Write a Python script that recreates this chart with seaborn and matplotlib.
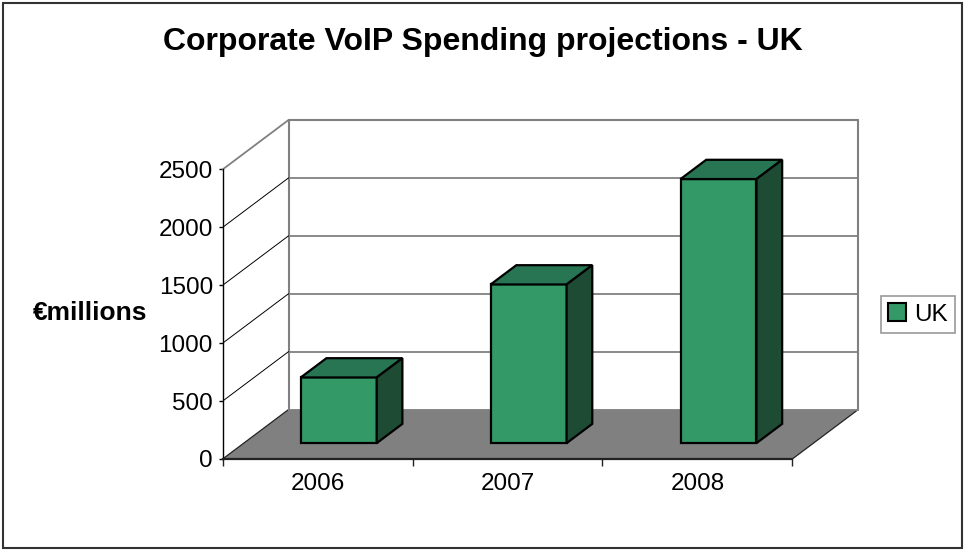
import matplotlib
matplotlib.use("Agg")
import matplotlib.pyplot as plt
import pandas as pd
import seaborn as sns
from matplotlib.patches import Polygon, Rectangle, Patch

# ---- data ----
years = ["2006", "2007", "2008"]
spending = [567, 1370, 2280]
y_ticks = [0, 500, 1000, 1500, 2000, 2500]
title = "Corporate VoIP Spending projections - UK"
y_label = "€millions"
series_name = "UK"

sns.set_style("white")
plt.rcParams['font.family'] = ['Liberation Sans', 'DejaVu Sans']
plt.rcParams['text.color'] = 'black'
plt.rcParams['axes.labelcolor'] = 'black'
plt.rcParams['xtick.color'] = 'black'
plt.rcParams['ytick.color'] = 'black'

FRONT = "#339966"
TOP = "#277552"
SIDE = "#1d4b33"
FLOOR = "#808080"
WALL = "#808080"

fig = plt.figure(figsize=(9.64, 5.5), dpi=100)
ax = fig.add_axes([0.231, 0.1655, 0.6593, 0.6164])

# oblique 3D offsets (in data units)
DX = 0.347
DY = 427.0
d1, d2 = 0.32, 0.71
ymax = y_ticks[-1]
n = len(years)

df = pd.DataFrame({"year": years, "spending": spending})
sns.barplot(data=df, x="year", y="spending", ax=ax, color=FRONT, saturation=1,
            width=0.4, edgecolor="black", linewidth=1.6, zorder=5)

# floor
ax.add_patch(Polygon([(-0.5, 0), (n - 0.5, 0), (n - 0.5 + DX, DY), (-0.5 + DX, DY)],
                     closed=True, facecolor=FLOOR, edgecolor="none", zorder=1))
ax.plot([-0.5, -0.5 + DX], [0, DY], color="#222222", lw=0.9, zorder=2)
ax.plot([n - 0.5, n - 0.5 + DX], [0, DY], color="#222222", lw=0.9, zorder=2, clip_on=False)
ax.plot([-0.5 + DX, n - 0.5 + DX], [DY, DY], color=WALL, lw=1.2, zorder=2, clip_on=False)

# back wall
bx0, bx1 = -0.5 + DX, n - 0.5 + DX
ax.plot([bx0, bx0], [DY, ymax + DY], color=WALL, lw=1.5, zorder=2, clip_on=False)
ax.plot([bx1, bx1], [DY, ymax + DY], color=WALL, lw=1.5, zorder=2, clip_on=False)
ax.plot([bx0, bx1], [ymax + DY, ymax + DY], color=WALL, lw=1.5, zorder=2, clip_on=False)
for v in y_ticks[1:-1]:
    ax.plot([bx0, bx1], [v + DY, v + DY], color=WALL, lw=1.3, zorder=2)
# left wall
for v in y_ticks[1:]:
    if v == ymax:
        ax.plot([-0.5, bx0], [v, v + DY], color=WALL, lw=1.3, zorder=2, clip_on=False)
    else:
        ax.plot([-0.5, bx0], [v, v + DY], color="black", lw=0.7, zorder=2)

# 3D bars
for p in ax.containers[0]:
    x0 = p.get_x() + d1 * DX
    w = p.get_width()
    h = p.get_height()
    b1 = d1 * DY
    b2 = d2 * DY
    ox = (d2 - d1) * DX
    p.set_x(x0)
    p.set_y(b1)
    p.set_joinstyle("miter")
    x1 = x0 + w
    ax.add_patch(Polygon([(x0, h + b1), (x1, h + b1), (x1 + ox, h + b2), (x0 + ox, h + b2)],
                         closed=True, facecolor=TOP, edgecolor="black", lw=1.6,
                         joinstyle="miter", zorder=5))
    ax.add_patch(Polygon([(x1, b1), (x1 + ox, b2), (x1 + ox, h + b2), (x1, h + b1)],
                         closed=True, facecolor=SIDE, edgecolor="black", lw=1.6,
                         joinstyle="miter", zorder=5))

ax.set_xlim(-0.5, n - 0.5 + DX)
ax.set_ylim(0, ymax + DY)
ax.set_xlabel("")
ax.set_ylabel("")
ax.set_facecolor("none")

for s in ["top", "right"]:
    ax.spines[s].set_visible(False)
ax.spines["left"].set_bounds(0, ymax)
ax.spines["left"].set_color("black")
ax.spines["left"].set_linewidth(1.0)
ax.spines["bottom"].set_bounds(-0.5, n - 0.5)
ax.spines["bottom"].set_color("#222222")
ax.spines["bottom"].set_linewidth(1.6)
ax.spines["bottom"].set_zorder(3)

ax.set_yticks(y_ticks)
ax.set_yticklabels([str(t) for t in y_ticks])
ax.set_xticks(range(n))
ax.set_xticklabels(years)
ax.set_xticks([i - 0.5 for i in range(n + 1)], minor=True)
ax.tick_params(axis="y", which="major", direction="out", length=3, width=1,
               color="black", pad=4, labelsize=17.5, labelcolor="black", left=True)
ax.tick_params(axis="x", which="major", length=0, pad=10, labelsize=17.5,
               labelcolor="black", bottom=True)
ax.tick_params(axis="x", which="minor", direction="out", length=5, width=1,
               color="#222222", bottom=True)

fig.text(483 / 964, 1 - 42 / 550, title, ha="center", va="center",
         fontsize=23, fontweight="bold", color="black")
fig.text(90 / 964, 1 - 313 / 550, y_label, ha="center", va="center",
         fontsize=19, fontweight="bold", color="black")

leg = fig.legend(handles=[Patch(facecolor=FRONT, edgecolor="black", linewidth=1.5, label=series_name)],
                 loc="center", bbox_to_anchor=(918 / 964, 1 - 314.5 / 550),
                 frameon=True, fancybox=False, edgecolor="#808080", fontsize=17.5,
                 handlelength=0.75, handleheight=0.75, handletextpad=0.35, borderpad=0.3,
                 borderaxespad=0)
for t in leg.get_texts():
    t.set_color("black")
leg.get_frame().set_linewidth(1.2)

fig.add_artist(Rectangle((3 / 964, 2 / 550), 959 / 964, 545 / 550, transform=fig.transFigure,
                         fill=False, edgecolor="#333333", lw=1.5))

fig.savefig("out.png", dpi=100)
